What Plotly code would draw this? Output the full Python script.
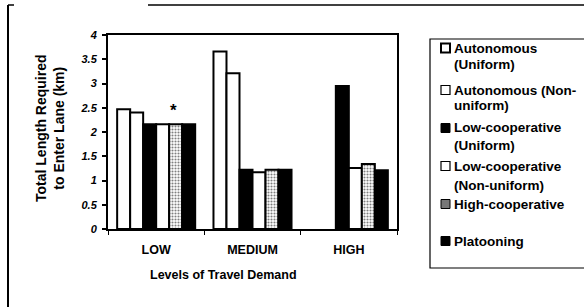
import plotly.graph_objects as go

categories = ["LOW", "MEDIUM", "HIGH"]
series_names = [
    ["Autonomous", "(Uniform)"],
    ["Autonomous (Non-", "uniform)"],
    ["Low-cooperative", "(Uniform)"],
    ["Low-cooperative", "(Non-uniform)"],
    ["High-cooperative"],
    ["Platooning"],
]
auto_uniform = [2.47, 3.66, None]
auto_nonuniform = [2.40, 3.21, None]
lowcoop_uniform = [2.16, 1.22, 2.95]
lowcoop_nonuniform = [2.16, 1.17, 1.26]
high_coop = [2.16, 1.22, 1.34]
platooning = [2.16, 1.22, 1.21]
y_ticks = [0, 0.5, 1, 1.5, 2, 2.5, 3, 3.5, 4]
y_tick_text = ["0", "0.5", "1", "1.5", "2", "2.5", "3", "3.5", "4"]

series_values = [auto_uniform, auto_nonuniform, lowcoop_uniform,
                 lowcoop_nonuniform, high_coop, platooning]
fills = ["white", "white", "black", "white", "pattern", "black"]

W, H = 584, 307
L, R, T, B = 108, 397, 35, 229
FONT = "Liberation Sans, Arial, sans-serif"


def px(x):
    return (x - L) / (R - L)


def py(y):
    return (B - y) / (B - T)


fig = go.Figure()
for lines, vals, fill in zip(series_names, series_values, fills):
    if fill == "pattern":
        marker = dict(color="white", line=dict(color="black", width=2),
                      pattern=dict(shape=".", fgcolor="black", bgcolor="white",
                                   size=3, solidity=0.4))
    else:
        marker = dict(color=fill, line=dict(color="black", width=2))
    fig.add_trace(go.Bar(x=categories, y=vals, name=" ".join(lines), marker=marker,
                         showlegend=False))

fig.update_layout(
    width=W, height=H,
    margin=dict(l=L, r=W - R, t=T, b=H - B),
    paper_bgcolor="white", plot_bgcolor="white",
    barmode="group", bargap=0.19, bargroupgap=0,
    font=dict(family=FONT, color="black"),
    showlegend=False,
)
fig.update_xaxes(
    showline=True, linecolor="black", linewidth=1.5, mirror=True,
    ticks="outside", ticklen=4, tickcolor="black", tickson="boundaries",
    tickfont=dict(size=12.5, family=FONT), tickvals=categories,
    ticktext=["<b>%s</b>" % c for c in categories],
    ticklabelstandoff=8,
    showgrid=False, fixedrange=True,
)
fig.update_yaxes(
    range=[0, 4], showline=True, linecolor="black", linewidth=2, mirror=True,
    ticks="outside", ticklen=4, tickcolor="black", tickwidth=1.5,
    tickvals=y_ticks, ticktext=["<b><i>%s</i></b>" % t for t in y_tick_text],
    tickfont=dict(size=11, family=FONT), ticklabelstandoff=3,
    showgrid=False, zeroline=False, fixedrange=True,
)

# axis titles
fig.add_annotation(xref="paper", yref="paper", x=px(223), y=py(275),
                   xanchor="center", yanchor="middle", showarrow=False,
                   text="<b>Levels of Travel Demand</b>", font=dict(size=12.5, family=FONT))
fig.add_annotation(xref="paper", yref="paper", x=px(50), y=py(128),
                   xanchor="center", yanchor="middle", showarrow=False, textangle=-90,
                   text="<b>Total Length Required<br>to Enter Lane (km)</b>",
                   font=dict(size=14, family=FONT))

# star marker above LOW group
fig.add_annotation(x="LOW", y=2.45, xshift=17, text="<b>*</b>", showarrow=False,
                   font=dict(size=17, family=FONT))

shapes = []
# outer frame lines (scanned page border)
shapes.append(dict(type="line", xref="paper", yref="paper", x0=px(8), x1=px(8),
                   y0=py(5), y1=py(307), line=dict(color="black", width=2)))
shapes.append(dict(type="line", xref="paper", yref="paper", x0=px(8), x1=px(14),
                   y0=py(5), y1=py(5), line=dict(color="black", width=1.5)))
shapes.append(dict(type="line", xref="paper", yref="paper", x0=px(148), x1=px(590),
                   y0=py(5), y1=py(5), line=dict(color="black", width=1.5)))
# legend box
leg_l, leg_t, leg_b = 430, 39, 268
shapes.append(dict(type="rect", xref="paper", yref="paper", x0=px(leg_l), x1=px(600),
                   y0=py(leg_b), y1=py(leg_t), line=dict(color="black", width=1.2),
                   fillcolor="white", layer="below"))

line_y = [[48, 64], [90, 105], [128, 145], [166, 185], [204], [241]]
for idx, (lines, fill, ys) in enumerate(zip(series_names, fills, line_y)):
    y0 = ys[0]
    sx0, sx1 = 441, 450
    sy0, sy1 = y0 - 4.5, y0 + 4.5
    if fill == "black":
        fc, lw = "black", 1
    elif fill == "pattern":
        fc, lw = "#777777", 1
    else:
        fc, lw = "white", 2 if idx == 0 else 1.2
    shapes.append(dict(type="rect", xref="paper", yref="paper",
                       x0=px(sx0), x1=px(sx1), y0=py(sy1), y1=py(sy0),
                       fillcolor=fc, line=dict(color="black", width=lw)))
    for text, yy in zip(lines, ys):
        fig.add_annotation(xref="paper", yref="paper", x=px(452), y=py(yy),
                           xanchor="left", yanchor="middle", align="left",
                           text="<b>%s</b>" % text, showarrow=False,
                           font=dict(size=13.5, family=FONT))

fig.update_layout(shapes=shapes)
fig.write_html("out.html", config={"displayModeBar": False},
               post_script="document.body.style.margin='0';")
